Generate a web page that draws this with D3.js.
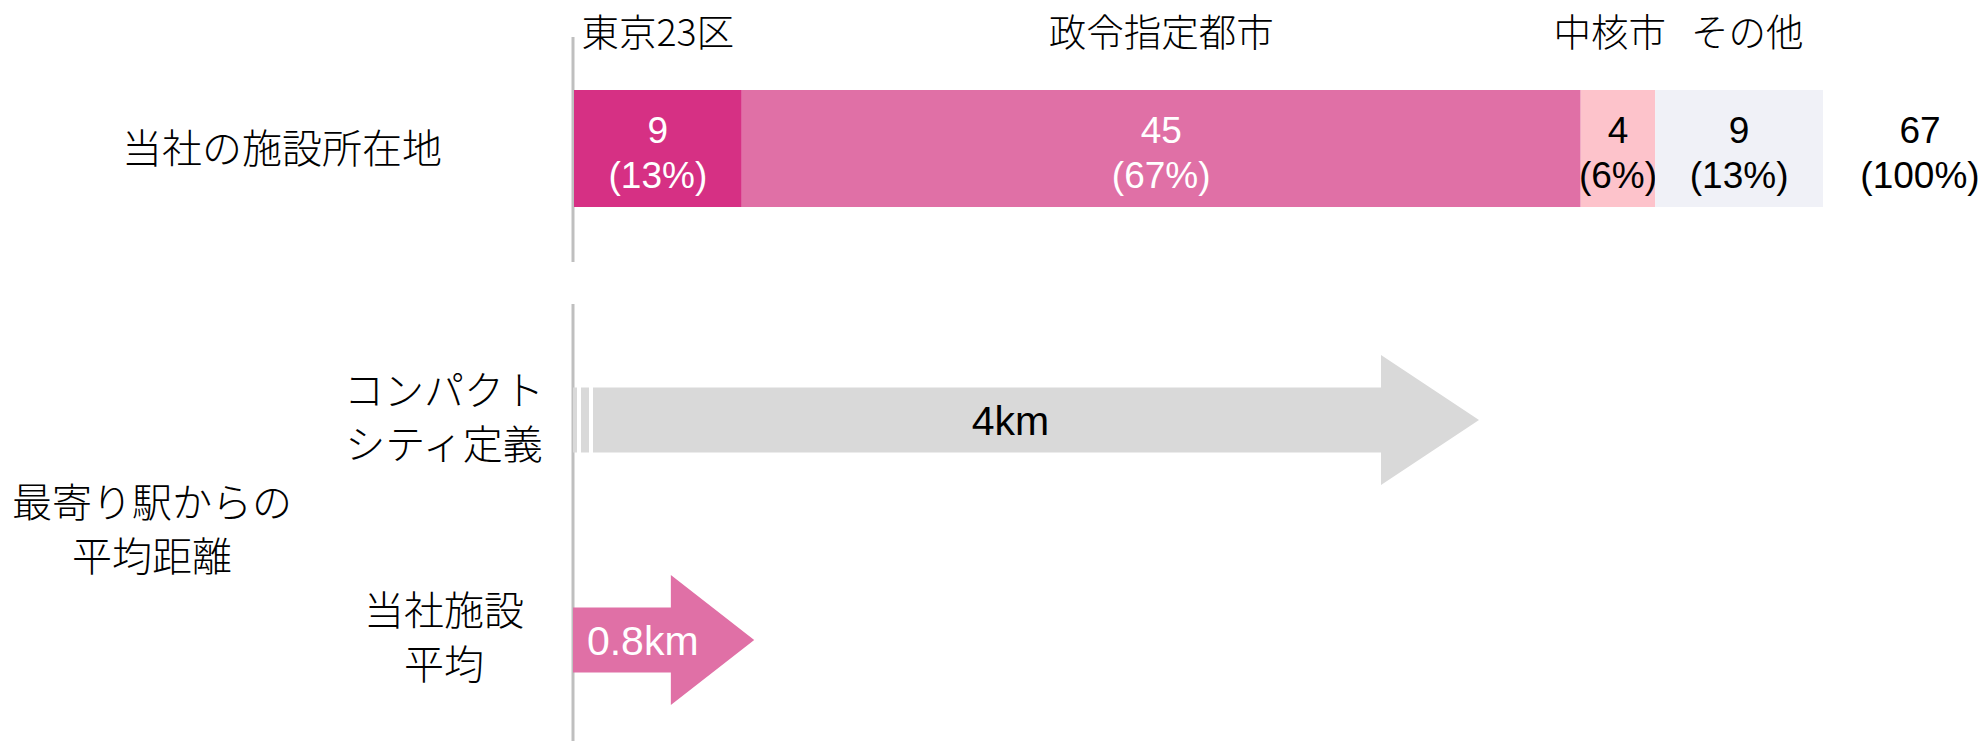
<!DOCTYPE html>
<html>
<head>
	<meta charset="utf-8">
	<title>施設所在地と最寄り駅からの距離</title>
	<script type="text/javascript" src="https://cdn.jsdelivr.net/npm/d3@7"></script>
	<style type="text/css">
		body {
			margin: 0;
			background: #ffffff;
		}
		.jp {
			font-family: "Noto Sans CJK JP", "Noto Sans", sans-serif;
			font-weight: 300;
		}
		.num {
			font-family: "Liberation Sans", Arial, sans-serif;
		}
	</style>
</head>

<body>
	<div id="chart"></div>

	<script type="text/javascript">
		// データ
		var categories = ["東京23区", "政令指定都市", "中核市", "その他"];
		var counts = [9, 45, 4, 9];
		var shares = ["13%", "67%", "6%", "13%"];
		var totalShare = "100%";
		var rowLabel = "当社の施設所在地";

		var groupLabel = ["最寄り駅からの", "平均距離"];
		var distLabels = [["コンパクト", "シティ定義"], ["当社施設", "平均"]];
		var distances = [4, 0.8];
		var distUnit = "km";

		// 見た目
		var w = 1984, h = 741;
		var segColors = ["#d63084", "#e070a6", "#fdc3cb", "#f0f1f7"];
		var segText = ["#ffffff", "#ffffff", "#000000", "#000000"];
		var arrowColors = ["#d9d9d9", "#e070a6"];
		var arrowText = ["#000000", "#ffffff"];
		var axisX = 573;

		var svg = d3.select("#chart")
					.append("svg")
					.attr("width", w)
					.attr("height", h);

		// 縦の基準線
		svg.append("line")
			.attr("x1", axisX).attr("x2", axisX)
			.attr("y1", 37).attr("y2", 262)
			.attr("stroke", "#bfbfbf").attr("stroke-width", 3);
		svg.append("line")
			.attr("x1", axisX).attr("x2", axisX)
			.attr("y1", 304).attr("y2", h)
			.attr("stroke", "#bfbfbf").attr("stroke-width", 3);

		// 1.積み上げ棒
		var total = d3.sum(counts);
		var xBar = d3.scaleLinear()
					.domain([0, total])
					.range([axisX + 1, 1823]);
		var barTop = 90, barBottom = 207;
		var barMid = (barTop + barBottom) / 2;

		var segs = [];
		var acc = 0;
		for (var i = 0; i < counts.length; i++) {
			segs.push({name: categories[i], value: counts[i], share: shares[i], x0: acc, x1: acc + counts[i], i: i});
			acc += counts[i];
		}

		var seg = svg.selectAll(".seg")
					.data(segs)
					.enter()
					.append("g")
					.attr("class", "seg");

		seg.append("rect")
			.attr("x", function(d){ return xBar(d.x0); })
			.attr("y", barTop)
			.attr("width", function(d){ return xBar(d.x1) - xBar(d.x0); })
			.attr("height", barBottom - barTop)
			.attr("fill", function(d){ return segColors[d.i]; });

		// 区分名（上）
		var heads = seg.append("text")
			.attr("class", "jp head")
			.attr("x", function(d){ return (xBar(d.x0) + xBar(d.x1)) / 2; })
			.attr("y", 46)
			.attr("text-anchor", "middle")
			.attr("font-size", 37.5)
			.attr("fill", "#000")
			.text(function(d){ return d.name; });

		// 隣の区分名と近すぎる時は左右に離す
		var minGap = 25;
		var hn = heads.nodes();
		for (var j = 1; j < hn.length; j++) {
			var a = hn[j - 1].getBBox(), b = hn[j].getBBox();
			var gap = b.x - (a.x + a.width);
			if (gap < minGap) {
				var shift = (minGap - gap) / 2;
				d3.select(hn[j - 1]).attr("x", +d3.select(hn[j - 1]).attr("x") - shift);
				d3.select(hn[j]).attr("x", +d3.select(hn[j]).attr("x") + shift);
			}
		}

		// 件数と割合
		var valText = seg.append("text")
			.attr("class", "num")
			.attr("text-anchor", "middle")
			.attr("font-size", 37)
			.attr("fill", function(d){ return segText[d.i]; });
		valText.append("tspan")
			.attr("x", function(d){ return (xBar(d.x0) + xBar(d.x1)) / 2; })
			.attr("y", barMid - 6)
			.text(function(d){ return d.value; });
		valText.append("tspan")
			.attr("x", function(d){ return (xBar(d.x0) + xBar(d.x1)) / 2; })
			.attr("y", barMid + 39)
			.text(function(d){ return "(" + d.share + ")"; });

		// 合計
		var totText = svg.append("text")
			.attr("class", "num")
			.attr("text-anchor", "middle")
			.attr("font-size", 37)
			.attr("fill", "#000");
		totText.append("tspan")
			.attr("x", xBar(total) + 97)
			.attr("y", barMid - 6)
			.text(total);
		totText.append("tspan")
			.attr("x", xBar(total) + 97)
			.attr("y", barMid + 39)
			.text("(" + totalShare + ")");

		svg.append("text")
			.attr("class", "jp")
			.attr("x", 282)
			.attr("y", barMid - 3)
			.attr("dominant-baseline", "central")
			.attr("text-anchor", "middle")
			.attr("font-size", 40)
			.text(rowLabel);

		// 2.距離の矢印
		var xDist = d3.scaleLinear()
					.domain([0, d3.max(distances)])
					.range([axisX, 1479]);
		var arrowMids = [420, 640];
		var shaftH = 65, headH = 130;

		distances.forEach(function(v, i) {
			var x0 = axisX;
			var tip = xDist(v);
			var headLen = Math.min(98, 0.46 * (tip - x0));
			var base = tip - headLen;
			var cy = arrowMids[i];
			var start = x0;
			var g = svg.append("g");

			// 省略の区切り
			if (i == 0) {
				g.append("rect")
					.attr("x", x0).attr("y", cy - shaftH / 2)
					.attr("width", 4).attr("height", shaftH)
					.attr("fill", arrowColors[i]);
				g.append("rect")
					.attr("x", x0 + 8).attr("y", cy - shaftH / 2)
					.attr("width", 8).attr("height", shaftH)
					.attr("fill", arrowColors[i]);
				start = x0 + 20;
			}

			var pts = [
				[start, cy - shaftH / 2],
				[base, cy - shaftH / 2],
				[base, cy - headH / 2],
				[tip, cy],
				[base, cy + headH / 2],
				[base, cy + shaftH / 2],
				[start, cy + shaftH / 2]
			];
			g.append("path")
				.attr("d", d3.line()(pts) + "Z")
				.attr("fill", arrowColors[i]);

			// 長い矢印は少し右寄せ
			var labelX = (x0 + base + headLen / 2) / 2 + (i == 0 ? 9 : 0);
			g.append("text")
				.attr("class", "num")
				.attr("x", labelX)
				.attr("y", cy + 15)
				.attr("text-anchor", "middle")
				.attr("font-size", 41)
				.attr("fill", arrowText[i])
				.text(v + distUnit);

			// 左の見出し
			var lab = svg.append("text")
				.attr("class", "jp")
				.attr("text-anchor", "middle")
				.attr("font-size", 40)
				.attr("dominant-baseline", "central");
			distLabels[i].forEach(function(s, k) {
				lab.append("tspan")
					.attr("x", 444)
					.attr("y", cy - 5 + (k - 0.5) * 54)
					.text(s);
			});
		});

		var grp = svg.append("text")
			.attr("class", "jp")
			.attr("text-anchor", "middle")
			.attr("font-size", 40)
			.attr("dominant-baseline", "central");
		groupLabel.forEach(function(s, k) {
			grp.append("tspan")
				.attr("x", 152)
				.attr("y", (arrowMids[0] + arrowMids[1]) / 2 - 3 + (k - 0.5) * 54)
				.text(s);
		});
	</script>
</body>
</html>
